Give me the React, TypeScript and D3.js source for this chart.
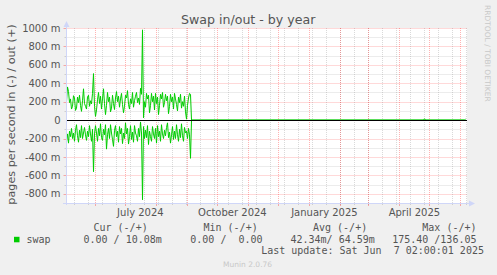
import React from 'react';
import * as d3 from 'd3';

const W = 497;
const H = 275;

const endTime = new Date(2025, 5, 7, 2, 0, 1);
const startTime = d3.timeDay.offset(endTime, -400);

// swap out (+), values in milli pages/s, one per day from the start of the window
const outValues = [
  200, 360, 310, 190, 230, 120, 150, 265, 240, 105,
  130, 250, 190, 270, 160, 95, 210, 340, 180, 150,
  120, 250, 270, 150, 210, 175, 290, 505, 150, 40,
  110, 220, 300, 180, 260, 120, 230, 340, 180, 60,
  160, 300, 200, 250, 90, 130, 270, 180, 115, 240,
  310, 200, 260, 140, 230, 290, 170, 80, 150, 270,
  240, 320, 170, 120, 230, 180, 300, 140, 210, 260,
  300, 190, 240, 170, 345, 280, 980, 25, 200, 140,
  290, 230, 270, 80, 160, 290, 200, 260, 110, 290,
  180, 250, 60, 160, 280, 230, 300, 140, 190, 280,
  210, 260, 70, 150, 280, 200, 250, 120, 290, 230,
  170, 100, 250, 190, 280, 130, 200, 150, 260, 90,
  10, 160, 240, 290, 280, 0,
];

// swap in (-), magnitudes in milli pages/s
const inValues = [
  230, 150, 250, 120, 180, 90, 200, 140, 230, 110,
  50, 170, 240, 110, 190, 60, 200, 140, 80, 160,
  220, 120, 180, 60, 150, 230, 100, 560, 150, 60,
  140, 230, 90, 170, 40, 190, 220, 100, 160, 50,
  315, 160, 90, 200, 50, 140, 210, 285, 110, 60,
  180, 120, 240, 70, 150, 90, 255, 140, 200, 30,
  150, 90, 260, 180, 60, 210, 130, 240, 60, 140,
  170, 230, 90, 180, 20, 140, 865, 70, 200, 110,
  190, 60, 265, 120, 180, 230, 70, 150, 200, 90,
  250, 60, 180, 120, 230, 50, 150, 200, 110, 170,
  80, 30, 190, 130, 250, 160, 70, 210, 120, 200,
  50, 160, 230, 100, 190, 40, 170, 230, 80, 140,
  120, 200, 90, 160, 415, 0,
];

// quiet period after the active one: [day index, value]
const outTail: [number, number][] = [[125, 0], [357, 0], [358, 15], [359, 0], [398, 0], [399, 10.08]];
const inTail: [number, number][] = [[125, 0], [399, 0]];

const yMajorTicks = [-800, -600, -400, -200, 0, 200, 400, 600, 800, 1000];
const yMinorTicks = [-700, -500, -300, -100, 100, 300, 500, 700, 900];
const xLabelDates = [new Date(2024, 6, 1), new Date(2024, 9, 1), new Date(2025, 0, 1), new Date(2025, 3, 1)];
const xLabels = ['July 2024', 'October 2024', 'January 2025', 'April 2025'];
const minorAnchor = new Date(2025, 0, 4);

const legendHeaders = ['Cur (-/+)', 'Min (-/+)', 'Avg (-/+)', 'Max (-/+)'];
const legendValues = ['0.00 / 10.08m', '0.00 /  0.00', '42.34m/ 64.59m', '175.40 /136.05'];
const headerX = [93.5, 203.5, 313, 422.3];
const valueX = [83.5, 190.3, 290.5, 392.2];

const GREEN = '#00CC00';
const AXIS = '#CFD6F8';
const FONT = '#555555';
const MINOR = 'rgba(130,130,130,0.3)';
const MAJOR = 'rgba(255,0,0,0.3)';

export default function App() {
  const left = 66.5, right = 467, top = 28, bottom = 203;
  const x = d3.scaleTime().domain([startTime, endTime]).range([66, 466]);
  const xDay = d3.scaleLinear().domain([0, 400]).range([66, 466]);
  const y = d3.scaleLinear().domain([-900, 1000]).range([bottom, top]);

  const outPts: [number, number][] = outValues.map((v, i) => [i, v] as [number, number]).concat(outTail.slice(1));
  const inPts: [number, number][] = inValues.map((v, i) => [i, v] as [number, number]).concat(inTail.slice(1));

  const lineOut = d3.line<[number, number]>().x(d => xDay(d[0] + 0.5)).y(d => y(d[1]));
  const lineIn = d3.line<[number, number]>().x(d => xDay(d[0] + 0.5)).y(d => y(-d[1]));

  const majorX = d3.timeMonth.range(d3.timeMonth.ceil(startTime), endTime);
  const minorX = d3.range(-30, 30)
    .map(k => d3.timeDay.offset(minorAnchor, 14 * k))
    .filter(d => d > startTime && d < endTime);

  const sans = 'DejaVu Sans, sans-serif';
  const mono = 'DejaVu Sans Mono, monospace';

  return (
    <svg width={W} height={H} style={{ position: 'absolute', left: 0, top: 0 }} xmlns="http://www.w3.org/2000/svg">
      <rect x={0} y={0} width={W} height={H} fill="#F0F0F0" />
      <rect x={left} y={top} width={right - left} height={bottom - top} fill="#FFFFFF" />

      {/* horizontal grid */}
      {yMinorTicks.map(v => (
        <g key={'hm' + v}>
          <line x1={left} x2={right} y1={Math.round(y(v)) + 0.5} y2={Math.round(y(v)) + 0.5} stroke={MINOR} strokeDasharray="1,1" />
          <line x1={64.5} x2={left} y1={Math.round(y(v)) + 0.5} y2={Math.round(y(v)) + 0.5} stroke={MINOR} />
        </g>
      ))}
      {yMajorTicks.filter(v => v !== 0).map(v => (
        <g key={'hM' + v}>
          <line x1={left} x2={right} y1={Math.round(y(v)) + 0.5} y2={Math.round(y(v)) + 0.5} stroke={MAJOR} strokeDasharray="1,1" />
          <line x1={63.5} x2={left} y1={Math.round(y(v)) + 0.5} y2={Math.round(y(v)) + 0.5} stroke={MAJOR} />
        </g>
      ))}

      {/* vertical grid */}
      {minorX.map((d, i) => (
        <g key={'vm' + i}>
          <line x1={Math.round(x(d)) + 0.5} x2={Math.round(x(d)) + 0.5} y1={top} y2={bottom} stroke={MINOR} strokeDasharray="1,1" />
          <line x1={Math.round(x(d)) + 0.5} x2={Math.round(x(d)) + 0.5} y1={bottom} y2={bottom + 2} stroke={MINOR} />
        </g>
      ))}
      {majorX.map((d, i) => (
        <g key={'vM' + i}>
          <line x1={Math.round(x(d)) + 0.5} x2={Math.round(x(d)) + 0.5} y1={top} y2={bottom} stroke={MAJOR} strokeDasharray="1,1" />
          <line x1={Math.round(x(d)) + 0.5} x2={Math.round(x(d)) + 0.5} y1={bottom} y2={bottom + 3} stroke={MAJOR} />
        </g>
      ))}

      {/* data */}
      <path d={lineOut(outPts) || ''} fill="none" stroke={GREEN} strokeWidth={1} />
      <path d={lineIn(inPts) || ''} fill="none" stroke={GREEN} strokeWidth={1} />

      {/* zero line */}
      <line x1={left} x2={right} y1={Math.round(y(0)) + 0.5} y2={Math.round(y(0)) + 0.5} stroke="#000000" strokeWidth={1} />

      {/* axes */}
      <line x1={left} x2={left} y1={bottom + 2} y2={top - 1} stroke={AXIS} />
      <line x1={63} x2={470} y1={bottom + 0.5} y2={bottom + 0.5} stroke={AXIS} />
      <polygon points={`${left - 3},${top - 1} ${left + 3},${top - 1} ${left},${top - 7}`} fill={AXIS} />
      <polygon points={`469,${bottom - 2.5} 469,${bottom + 3.5} 475,${bottom + 0.5}`} fill={AXIS} />

      {/* y labels */}
      {yMajorTicks.map(v => (
        <text key={'yl' + v} x={60.5} y={y(v) + 3.6} textAnchor="end" fontFamily={sans} fontSize={10} fill={FONT}>
          {v === 0 ? '0' : `${v} m`}
        </text>
      ))}

      {/* x labels */}
      {xLabelDates.map((d, i) => (
        <text key={'xl' + i} x={x(d3.timeHour.offset(d, 15 * 24 + 12))} y={216} textAnchor="middle" fontFamily={sans} fontSize={10} fill={FONT}>
          {xLabels[i]}
        </text>
      ))}

      {/* title */}
      <text x={248.2} y={24} textAnchor="middle" fontFamily={sans} fontSize={12.6} fill={FONT}>Swap in/out - by year</text>

      {/* vertical axis label */}
      <text transform="translate(15.3,114.5) rotate(-90)" textAnchor="middle" fontFamily={sans} fontSize={11.2} fill={FONT}>
        pages per second in (-) / out (+)
      </text>

      {/* watermark */}
      <text transform="translate(485.2,53.3) rotate(90)" textAnchor="middle" fontFamily={sans} fontSize={7.5} fill="#C8C8C8">
        RRDTOOL / TOBI OETIKER
      </text>

      {/* legend */}
      {legendHeaders.map((t, i) => (
        <text key={'lh' + i} x={headerX[i]} y={231} fontFamily={mono} fontSize={10} fill={FONT} style={{ whiteSpace: 'pre' }}>{t}</text>
      ))}
      <rect x={14} y={236.8} width={5.5} height={5.5} fill={GREEN} />
      <text x={26.5} y={242.5} fontFamily={mono} fontSize={10} fill={FONT}>swap</text>
      {legendValues.map((t, i) => (
        <text key={'lv' + i} x={valueX[i]} y={242.5} fontFamily={mono} fontSize={10} fill={FONT} style={{ whiteSpace: 'pre' }}>{t}</text>
      ))}
      <text x={261.2} y={254} fontFamily={mono} fontSize={10} fill={FONT} style={{ whiteSpace: 'pre' }}>Last update: Sat Jun  7 02:00:01 2025</text>

      <text x={223} y={266.5} fontFamily={sans} fontSize={7.5} fill="#C8C8C8">Munin 2.0.76</text>
    </svg>
  );
}
